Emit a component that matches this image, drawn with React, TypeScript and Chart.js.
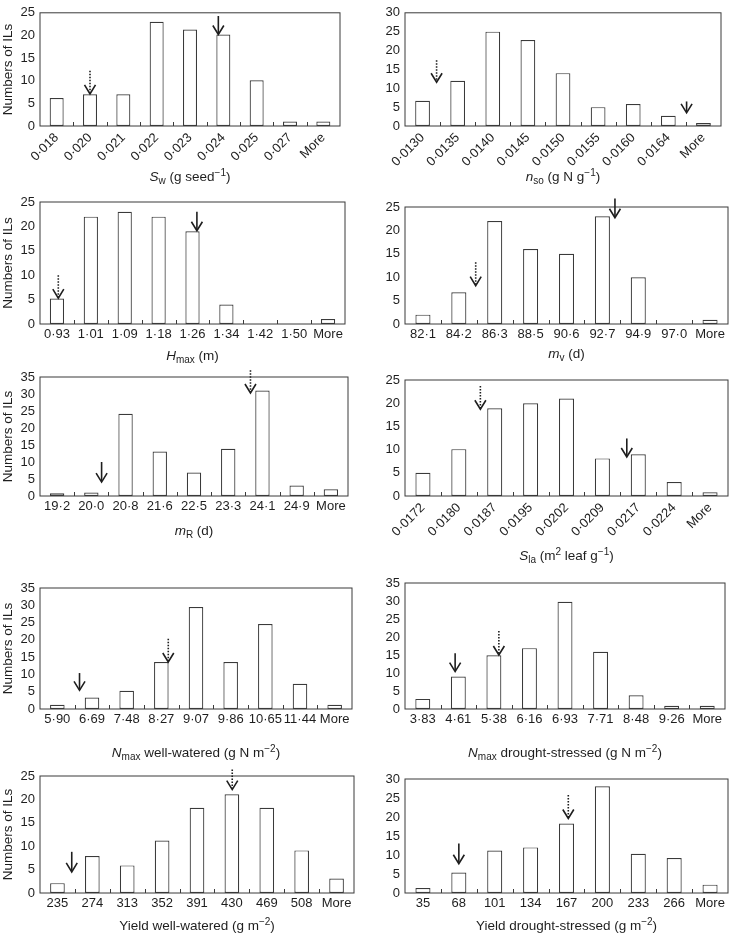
import React, { useEffect, useRef } from 'react';
import { Chart, registerables } from 'chart.js';

Chart.register(...registerables);

// ---------- data (counts of ILs per bin) ----------
const swLabels = ['0·018', '0·020', '0·021', '0·022', '0·023', '0·024', '0·025', '0·027', 'More'];
const swCounts = [6.2, 7, 7, 23, 21.3, 20.2, 10.1, 1, 1];
const swSolid = [4.85, 20.2, 24.3]; // [category position, arrow tip value, arrow tail value]
const swDotted = [1.0, 7.1, 12.2];

const nsoLabels = ['0·0130', '0·0135', '0·0140', '0·0145', '0·0150', '0·0155', '0·0160', '0·0164', 'More'];
const nsoCounts = [6.7, 12, 25, 22.8, 14, 5, 5.8, 2.7, 0.8];
const nsoSolid = [7.52, 3.5, 6.5];
const nsoDotted = [0.4, 11.6, 17.4];

const hmaxLabels = ['0·93', '1·01', '1·09', '1·18', '1·26', '1·34', '1·42', '1·50', 'More'];
const hmaxCounts = [5.2, 22, 23, 22, 19, 4, 0, 0, 1];
const hmaxSolid = [4.13, 19.1, 23];
const hmaxDotted = [0.04, 5.3, 10];

const mvLabels = ['82·1', '84·2', '86·3', '88·5', '90·6', '92·7', '94·9', '97·0', 'More'];
const mvCounts = [2, 6.8, 22, 16, 15, 23, 10, 0, 0.9];
const mvSolid = [5.35, 22.7, 26.8];
const mvDotted = [1.47, 8.2, 13.2];

const mrLabels = ['19·2', '20·0', '20·8', '21·6', '22·5', '23·3', '24·1', '24·9', 'More'];
const mrCounts = [0.8, 1, 24.2, 13.1, 6.9, 13.9, 31, 3.1, 2];
const mrSolid = [1.3, 4.1, 10];
const mrDotted = [5.65, 30.3, 37];

const slaLabels = ['0·0172', '0·0180', '0·0187', '0·0195', '0·0202', '0·0209', '0·0217', '0·0224', 'More'];
const slaCounts = [5, 10.1, 18.9, 20, 21, 8.1, 9, 3, 0.8];
const slaSolid = [5.68, 8.4, 12.4];
const slaDotted = [1.6, 18.7, 23.7];

const nwwLabels = ['5·90', '6·69', '7·48', '8·27', '9·07', '9·86', '10·65', '11·44', 'More'];
const nwwCounts = [1.2, 3.3, 5.3, 13.6, 29.5, 13.6, 24.6, 7.3, 1.2];
const nwwSolid = [0.64, 5.4, 10.4];
const nwwDotted = [3.2, 13.6, 20.3];

const ndsLabels = ['3·83', '4·61', '5·38', '6·16', '6·93', '7·71', '8·48', '9·26', 'More'];
const ndsCounts = [2.8, 9, 14.9, 16.9, 29.8, 15.9, 3.8, 0.9, 0.9];
const ndsSolid = [0.91, 10.4, 15.5];
const ndsDotted = [2.14, 15, 21.7];

const ywwLabels = ['235', '274', '313', '352', '391', '430', '469', '508', 'More'];
const ywwCounts = [2.1, 7.9, 5.9, 11.2, 18.2, 21.1, 18.2, 9.1, 3.1];
const ywwSolid = [0.41, 4.5, 8.8];
const ywwDotted = [5.01, 22.1, 26.4];

const ydsLabels = ['35', '68', '101', '134', '167', '200', '233', '266', 'More'];
const ydsCounts = [1.3, 5.4, 11.2, 12, 18.3, 28.1, 10.3, 9.2, 2.2];
const ydsSolid = [1.0, 7.7, 13];
const ydsDotted = [4.05, 19.6, 25.8];

const yMaxes = [25, 30, 25, 25, 35, 25, 35, 35, 25, 30];

// Titles: *x* italic, _{..} subscript, ^{..} superscript
const xTitles = [
  '*S*_{w} (g seed^{−1})',
  '*n*_{so} (g N g^{−1})',
  '*H*_{max} (m)',
  '*m*_{v} (d)',
  '*m*_{R} (d)',
  '*S*_{la} (m^{2} leaf g^{−1})',
  '*N*_{max} well-watered (g N m^{−2})',
  '*N*_{max} drought-stressed (g N m^{−2})',
  'Yield well-watered (g m^{−2})',
  'Yield drought-stressed (g m^{−2})',
];
const yTitle = 'Numbers of ILs';

// ---------- layout (plot-area boxes: left, top, right, bottom; title centre y) ----------
const W = 732;
const H = 934;
const boxes = [
  [40, 11, 340, 126],
  [405, 7, 721, 126],
  [40, 202, 345, 324],
  [405, 207, 728, 324],
  [40, 377, 348, 496],
  [405, 380, 728, 496],
  [40, 588, 352, 709],
  [405, 583, 725, 709],
  [40, 776, 354, 893],
  [405, 779, 728, 893],
];
const titleYs = [176, 176, 355, 353, 530, 555, 752, 752, 925, 925];
const rotatedPanels = [true, true, false, false, false, true, false, false, false, false];
const yTitlePanels = [true, false, true, false, true, false, true, false, true, false];

const panels = [
  { labels: swLabels, counts: swCounts, solid: swSolid, dotted: swDotted },
  { labels: nsoLabels, counts: nsoCounts, solid: nsoSolid, dotted: nsoDotted },
  { labels: hmaxLabels, counts: hmaxCounts, solid: hmaxSolid, dotted: hmaxDotted },
  { labels: mvLabels, counts: mvCounts, solid: mvSolid, dotted: mvDotted },
  { labels: mrLabels, counts: mrCounts, solid: mrSolid, dotted: mrDotted },
  { labels: slaLabels, counts: slaCounts, solid: slaSolid, dotted: slaDotted },
  { labels: nwwLabels, counts: nwwCounts, solid: nwwSolid, dotted: nwwDotted },
  { labels: ndsLabels, counts: ndsCounts, solid: ndsSolid, dotted: ndsDotted },
  { labels: ywwLabels, counts: ywwCounts, solid: ywwSolid, dotted: ywwDotted },
  { labels: ydsLabels, counts: ydsCounts, solid: ydsSolid, dotted: ydsDotted },
];

const FONT = "'Liberation Sans', Arial, Helvetica, sans-serif";
const INK = '#1e1e1e';
const LINE = '#3a3a3a';

type Seg = { t: string; it?: boolean; sub?: boolean; sup?: boolean };

function parseRich(s: string): Seg[] {
  const out: Seg[] = [];
  let i = 0;
  let buf = '';
  const flush = () => {
    if (buf) out.push({ t: buf });
    buf = '';
  };
  while (i < s.length) {
    const c = s[i];
    if (c === '*') {
      flush();
      const j = s.indexOf('*', i + 1);
      out.push({ t: s.slice(i + 1, j), it: true });
      i = j + 1;
    } else if ((c === '_' || c === '^') && s[i + 1] === '{') {
      flush();
      const j = s.indexOf('}', i + 2);
      out.push({ t: s.slice(i + 2, j), sub: c === '_', sup: c === '^' });
      i = j + 1;
    } else {
      buf += c;
      i++;
    }
  }
  flush();
  return out;
}

function drawRich(ctx: CanvasRenderingContext2D, text: string, cx: number, cy: number) {
  const segs = parseRich(text);
  const base = 13.5;
  const small = 10;
  const fontFor = (s: Seg) =>
    `${s.it ? 'italic ' : ''}${s.sub || s.sup ? small : base}px ${FONT}`;
  let total = 0;
  const widths = segs.map((s) => {
    ctx.font = fontFor(s);
    const w = ctx.measureText(s.t).width;
    total += w;
    return w;
  });
  let x = cx - total / 2;
  ctx.textBaseline = 'alphabetic';
  ctx.textAlign = 'left';
  ctx.fillStyle = INK;
  const baseY = cy + base * 0.36;
  segs.forEach((s, k) => {
    ctx.font = fontFor(s);
    const dy = s.sub ? 3.5 : s.sup ? -5 : 0;
    ctx.fillText(s.t, x, baseY + dy);
    x += widths[k];
  });
}

function drawArrow(
  ctx: CanvasRenderingContext2D,
  x: number,
  yTip: number,
  yTail: number,
  dotted: boolean
) {
  ctx.save();
  ctx.strokeStyle = INK;
  ctx.lineWidth = 1.6;
  ctx.lineCap = 'butt';
  ctx.setLineDash(dotted ? [1.5, 1.5] : []);
  ctx.beginPath();
  ctx.moveTo(x, yTail);
  ctx.lineTo(x, yTip - 1);
  ctx.stroke();
  ctx.setLineDash([]);
  ctx.beginPath();
  ctx.moveTo(x - 5.5, yTip - 9);
  ctx.lineTo(x, yTip);
  ctx.lineTo(x + 5.5, yTip - 9);
  ctx.stroke();
  ctx.restore();
}

function makeDecor(idx: number) {
  const p = panels[idx];
  return {
    id: 'decor' + idx,
    afterDatasetsDraw(chart: any) {
      const { ctx, chartArea: a, scales } = chart;
      const xs = scales.x;
      const ys = scales.y;
      ctx.save();
      // frame
      ctx.strokeStyle = LINE;
      ctx.lineWidth = 1;
      ctx.strokeRect(a.left, a.top, a.right - a.left, a.bottom - a.top);
      // inward ticks at bin boundaries
      const n = p.labels.length;
      const p0 = xs.getPixelForValue(0);
      const step = xs.getPixelForValue(1) - p0;
      ctx.beginPath();
      for (let i = 1; i < n; i++) {
        const px = Math.round(p0 + (i - 0.5) * step) + 0.5;
        ctx.moveTo(px, a.bottom);
        ctx.lineTo(px, a.bottom - 4);
      }
      ctx.stroke();
      // arrows
      const ax = (pos: number) => p0 + pos * step;
      drawArrow(ctx, ax(p.solid[0]), ys.getPixelForValue(p.solid[1]), ys.getPixelForValue(p.solid[2]), false);
      drawArrow(ctx, ax(p.dotted[0]), ys.getPixelForValue(p.dotted[1]), ys.getPixelForValue(p.dotted[2]), true);
      // x title
      drawRich(ctx, xTitles[idx], (a.left + a.right) / 2, titleYs[idx]);
      // y title
      if (yTitlePanels[idx]) {
        ctx.save();
        ctx.translate(8, (a.top + a.bottom) / 2);
        ctx.rotate(-Math.PI / 2);
        ctx.font = `13.5px ${FONT}`;
        ctx.fillStyle = INK;
        ctx.textAlign = 'center';
        ctx.textBaseline = 'middle';
        ctx.fillText(yTitle, 0, 0);
        ctx.restore();
      }
      ctx.restore();
    },
  };
}

function Panel({ idx }: { idx: number }) {
  const ref = useRef<HTMLCanvasElement | null>(null);
  useEffect(() => {
    if (!ref.current) return;
    const p = panels[idx];
    const [L, T, R, B] = boxes[idx];
    const yW = 40;
    const rot = rotatedPanels[idx];
    const xH = rot ? 60 : 30;
    const chart = new Chart(ref.current, {
      type: 'bar',
      data: {
        labels: p.labels,
        datasets: [
          {
            data: p.counts,
            backgroundColor: '#ffffff',
            borderColor: LINE,
            borderWidth: 1.2,
            borderSkipped: false,
            barPercentage: 0.42,
            categoryPercentage: 1,
          },
        ],
      },
      options: {
        responsive: false,
        animation: false,
        devicePixelRatio: 1,
        layout: { padding: { left: L - yW, top: T, right: W - R, bottom: H - B - xH } },
        plugins: { legend: { display: false }, tooltip: { enabled: false }, title: { display: false } },
        scales: {
          x: {
            type: 'category',
            offset: true,
            grid: { display: false, drawTicks: false },
            border: { display: false },
            ticks: {
              autoSkip: false,
              maxRotation: rot ? 45 : 0,
              minRotation: rot ? 45 : 0,
              padding: rot ? 4 : 3,
              color: INK,
              font: { family: FONT, size: 13 },
            },
            afterFit: (s: any) => {
              s.height = xH;
            },
          },
          y: {
            min: 0,
            max: yMaxes[idx],
            grid: { display: false, drawTicks: false },
            border: { display: false },
            ticks: {
              stepSize: 5,
              autoSkip: false,
              padding: 5,
              color: INK,
              font: { family: FONT, size: 13 },
            },
            afterFit: (s: any) => {
              s.width = yW;
            },
          },
        },
      },
      plugins: [makeDecor(idx)],
    } as any);
    return () => chart.destroy();
  }, [idx]);
  return (
    <canvas
      ref={ref}
      width={W}
      height={H}
      style={{ position: 'absolute', left: 0, top: 0, width: W, height: H }}
    />
  );
}

export default function App() {
  return (
    <div
      style={{
        position: 'absolute',
        left: 0,
        top: 0,
        width: W,
        height: H,
        overflow: 'hidden',
        background: '#ffffff',
      }}
    >
      {panels.map((_, i) => (
        <Panel key={i} idx={i} />
      ))}
    </div>
  );
}
